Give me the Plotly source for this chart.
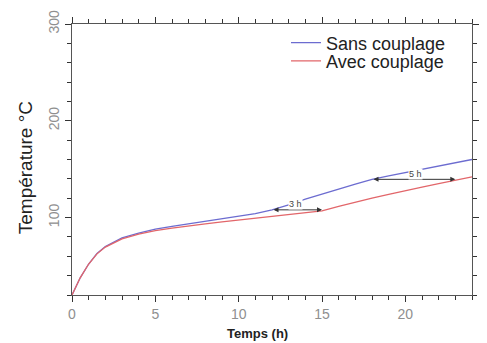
import plotly.graph_objects as go

# Time axis (hours)
hours = [0, 0.5, 1, 1.5, 2, 3, 4, 5, 6, 7, 8, 9, 10, 11, 12, 13, 14, 15,
         16, 17, 18, 19, 20, 21, 22, 23, 24]

# Temperature without coupling (°C)
temp_sans = [20, 38, 52, 63, 70, 79, 84, 88, 91, 93.5, 96, 98.5, 101, 104,
             108, 113, 119, 124.5, 129.5, 134.5, 139.5, 143, 146.5, 150,
             153.5, 157, 160]

# Temperature with coupling (°C)
temp_avec = [20, 38, 52, 62.5, 69.5, 78, 83, 86.5, 89, 91.5, 93.5, 95.5,
             97.5, 99.5, 101.5, 103.5, 105, 107, 111.5, 116, 120, 124, 128,
             131.5, 135, 138.5, 142]

# Delay markers: start time on the uncoupled curve and lag in hours
lag_start = [12, 18]
lag_hours = [3, 5]
lag_text = ["3 h", "5 h"]
lag_label_pos = [(13.4, 114.5), (20.6, 145.5)]

FONT = "Liberation Sans, Arial, sans-serif"
AXIS_COLOR = "#333333"
TICK_FONT_COLOR = "#8f8f8f"

fig = go.Figure()
fig.add_trace(go.Scatter(x=hours, y=temp_sans, mode="lines", name="Sans couplage",
                         line=dict(color="#6c6cd0", width=1.3), legend="legend",
                         showlegend=True))
fig.add_trace(go.Scatter(x=hours, y=temp_avec, mode="lines", name="Avec couplage",
                         line=dict(color="#e2666a", width=1.3), legend="legend2",
                         showlegend=True))

annotations = []
for start, lag, txt, (lx, ly) in zip(lag_start, lag_hours, lag_text, lag_label_pos):
    y_level = temp_sans[hours.index(start)]
    annotations.append(dict(
        x=start + lag, y=y_level, ax=start, ay=y_level,
        xref="x", yref="y", axref="x", ayref="y",
        text="", showarrow=True, arrowhead=2, arrowside="end+start",
        arrowsize=1.0, arrowwidth=1, arrowcolor="#333333",
    ))
    annotations.append(dict(
        x=lx, y=ly, xref="x", yref="y", text=txt, showarrow=False,
        font=dict(family=FONT, size=9, color="#444444"),
        bgcolor="white", borderpad=0,
    ))

# Axis titles
annotations.append(dict(
    x=0.464, y=-0.142, xref="paper", yref="paper", text="<b>Temps (h)</b>",
    showarrow=False, xanchor="center", yanchor="middle",
    font=dict(family=FONT, size=13, color="#222222"),
))
annotations.append(dict(
    x=-0.116, y=0.47, xref="paper", yref="paper", text="Température °C",
    showarrow=False, textangle=-90, xanchor="center", yanchor="middle",
    font=dict(family=FONT, size=19, color="#222222"),
))

axis_common = dict(
    showline=True, linecolor="#555555", linewidth=1,
    mirror="ticks", ticks="outside", ticklen=6, tickcolor=AXIS_COLOR,
    tickwidth=1, showgrid=False, zeroline=False,
    tickfont=dict(family=FONT, size=14, color=TICK_FONT_COLOR),
)

fig.update_layout(
    width=487, height=343,
    margin=dict(l=72, r=8, t=24, b=48),
    paper_bgcolor="white", plot_bgcolor="white",
    font=dict(family=FONT),
    showlegend=True,
    xaxis=dict(range=[0, 24], tick0=0, dtick=5,
               minor=dict(dtick=1, ticklen=4, ticks="outside", tickcolor=AXIS_COLOR,
                          tickwidth=1),
               **axis_common),
    yaxis=dict(range=[20, 300], tick0=0, dtick=100, tickangle=-90,
               minor=dict(dtick=20, ticklen=4, ticks="outside", tickcolor=AXIS_COLOR,
                          tickwidth=1),
               **axis_common),
    legend=dict(x=0.535, y=0.93, xanchor="left", yanchor="middle",
                bgcolor="rgba(0,0,0,0)", font=dict(family=FONT, size=18, color="#222222")),
    legend2=dict(x=0.535, y=0.863, xanchor="left", yanchor="middle",
                 bgcolor="rgba(0,0,0,0)", font=dict(family=FONT, size=18, color="#222222")),
    annotations=annotations,
)

fig.write_html("out.html")
